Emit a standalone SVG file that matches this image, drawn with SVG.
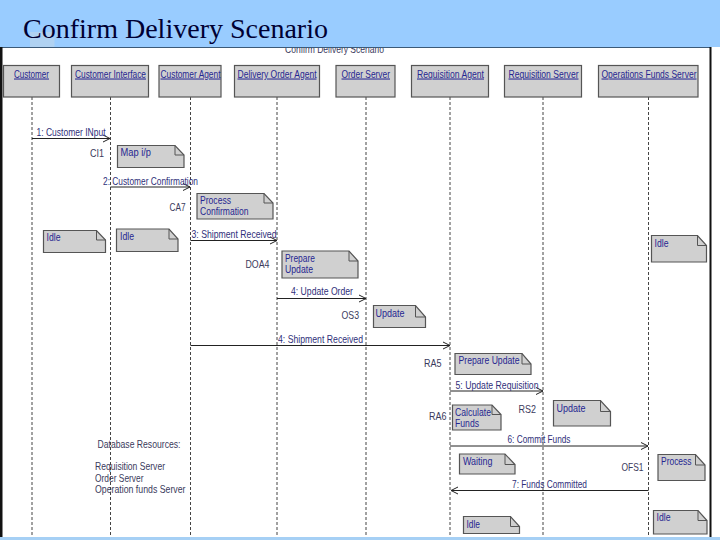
<svg xmlns="http://www.w3.org/2000/svg" width="720" height="540" viewBox="0 0 720 540">
<style>
.t{font-family:"Liberation Sans",Arial,sans-serif;font-size:10.5px}
.n{fill:#262691;text-decoration:underline}
.o{fill:#262691}
.m{fill:#2f2f7a}
.g{fill:#3a3a5c}
.box{fill:#d0d0d0;stroke:#555;stroke-width:1.2}
.fold{fill:none;stroke:#555;stroke-width:1}
.life{stroke:#444;stroke-width:1;stroke-dasharray:3 2;fill:none}
.msg{stroke:#222;stroke-width:1;fill:none}
</style>
<defs>
<marker id="a" markerUnits="userSpaceOnUse" markerWidth="10" markerHeight="12" refX="8" refY="6" orient="auto"><path d="M1 2.500L8 6L1 9.500" fill="none" stroke="#222" stroke-width="1"/></marker>
</defs>
<rect width="720" height="540" fill="#fff"/>
<text class="t g" x="285" y="52.500" textLength="99" lengthAdjust="spacingAndGlyphs">Confirm Delivery Scenario</text>
<rect width="720" height="47" fill="#99ccff"/>
<rect x="30" y="32" width="24.500" height="15" fill="#b0d2f2"/>
<rect x="0" y="47" width="711" height="1" fill="#3c5a78"/>
<rect x="0" y="47" width="2.500" height="490" fill="#111"/>
<rect x="709.500" y="47" width="2" height="490" fill="#111"/>
<rect y="537" width="720" height="3" fill="#a6d0f5"/>
<text id="title" x="23" y="37.500" font-family="'Liberation Serif','Times New Roman',serif" font-size="28" fill="#000033" textLength="305" lengthAdjust="spacingAndGlyphs">Confirm Delivery Scenario</text>
<g id="connectors">
<path class="life" d="M32 97V537M110.500 97V537M190.500 97V537M277 97V537M366 97V537M450 97V537M543 97V537M648.500 97V537"/>
<path class="msg" marker-end="url(#a)" d="M32 138.500H110"/>
<path class="msg" marker-end="url(#a)" d="M110.500 187H190"/>
<path class="msg" marker-end="url(#a)" d="M190.500 240.500H277"/>
<path class="msg" marker-end="url(#a)" d="M277 298.500H366"/>
<path class="msg" marker-end="url(#a)" d="M190.500 345.500H450"/>
<path class="msg" marker-end="url(#a)" d="M450 391H543"/>
<path class="msg" marker-end="url(#a)" d="M450 446H648"/>
<path class="msg" marker-end="url(#a)" d="M648.500 490.500H451"/>
<text class="t m" x="36.500" y="136" textLength="69" lengthAdjust="spacingAndGlyphs">1: Customer INput</text>
<text class="t m" x="103" y="185" textLength="95" lengthAdjust="spacingAndGlyphs">2: Customer Confirmation</text>
<text class="t m" x="191.500" y="238" textLength="85" lengthAdjust="spacingAndGlyphs">3: Shipment Received</text>
<text class="t m" x="291" y="295" textLength="62" lengthAdjust="spacingAndGlyphs">4: Update Order</text>
<text class="t m" x="278" y="343" textLength="85" lengthAdjust="spacingAndGlyphs">4: Shipment Received</text>
<text class="t m" x="455.500" y="389" textLength="83" lengthAdjust="spacingAndGlyphs">5: Update Requisition</text>
<text class="t m" x="507.500" y="443" textLength="63" lengthAdjust="spacingAndGlyphs">6: Commit Funds</text>
<text class="t m" x="512" y="488" textLength="75" lengthAdjust="spacingAndGlyphs">7: Funds Committed</text>
</g>
<g id="customer"><rect class="box" x="3.500" y="65.500" width="56" height="31.500"/><text class="t n" x="14" y="77.500" textLength="35" lengthAdjust="spacingAndGlyphs">Customer</text></g>
<g id="customer-interface"><rect class="box" x="71.500" y="65.500" width="77" height="31.500"/><text class="t n" x="75" y="77.500" textLength="71" lengthAdjust="spacingAndGlyphs">Customer Interface</text></g>
<g id="customer-agent"><rect class="box" x="159" y="65.500" width="62" height="31.500"/><text class="t n" x="160.500" y="77.500" textLength="60" lengthAdjust="spacingAndGlyphs">Customer Agent</text></g>
<g id="delivery-order-agent"><rect class="box" x="234.500" y="65.500" width="85" height="31.500"/><text class="t n" x="237.500" y="77.500" textLength="79" lengthAdjust="spacingAndGlyphs">Delivery Order Agent</text></g>
<g id="order-server"><rect class="box" x="336" y="65.500" width="59" height="31.500"/><text class="t n" x="341.500" y="77.500" textLength="48.500" lengthAdjust="spacingAndGlyphs">Order Server</text></g>
<g id="requisition-agent"><rect class="box" x="411.500" y="65.500" width="77" height="31.500"/><text class="t n" x="417" y="77.500" textLength="67" lengthAdjust="spacingAndGlyphs">Requisition Agent</text></g>
<g id="requisition-server"><rect class="box" x="504.500" y="65.500" width="77" height="31.500"/><text class="t n" x="508.500" y="77.500" textLength="70" lengthAdjust="spacingAndGlyphs">Requisition Server</text></g>
<g id="operations-funds-server"><rect class="box" x="598.500" y="65.500" width="99.500" height="31.500"/><text class="t n" x="601.500" y="77.500" textLength="95" lengthAdjust="spacingAndGlyphs">Operations Funds Server</text></g>

<g id="note-map"><path class="box" d="M117.500 145.500H175L184 155V167.500H117.500Z"/><path class="fold" d="M175 145.500V155H184"/><text class="t o" x="120.500" y="156" textLength="30.500" lengthAdjust="spacingAndGlyphs">Map i/p</text></g>
<g id="note-process"><path class="box" d="M197 193.500H264L273 203V219H197Z"/><path class="fold" d="M264 193.500V203H273"/><text class="t o" x="200" y="204" textLength="31" lengthAdjust="spacingAndGlyphs">Process</text><text class="t o" x="200" y="215" textLength="48.500" lengthAdjust="spacingAndGlyphs">Confirmation</text></g>
<g id="note-idle-1"><path class="box" d="M43.500 230.500H96.500L105.500 240V252.500H43.500Z"/><path class="fold" d="M96.500 230.500V240H105.500"/><text class="t o" x="46.500" y="241" textLength="14" lengthAdjust="spacingAndGlyphs">Idle</text></g>
<g id="note-idle-2"><path class="box" d="M116.500 229H169L178 239V251.500H116.500Z"/><path class="fold" d="M169 229V239H178"/><text class="t o" x="120" y="240" textLength="14" lengthAdjust="spacingAndGlyphs">Idle</text></g>
<g id="note-idle-ofs-top"><path class="box" d="M651.500 235.500H697.500L706.500 245.500V262H651.500Z"/><path class="fold" d="M697.500 235.500V245.500H706.500"/><text class="t o" x="654.500" y="247" textLength="14" lengthAdjust="spacingAndGlyphs">Idle</text></g>
<g id="note-prepare-1"><path class="box" d="M282 251H349L358 261V278H282Z"/><path class="fold" d="M349 251V261H358"/><text class="t o" x="285" y="262" textLength="30" lengthAdjust="spacingAndGlyphs">Prepare</text><text class="t o" x="285" y="273" textLength="28" lengthAdjust="spacingAndGlyphs">Update</text></g>
<g id="note-update-1"><path class="box" d="M373.500 305.500H415.500L425.500 317V327.500H373.500Z"/><path class="fold" d="M415.500 305.500V317H425.500"/><text class="t o" x="375.500" y="317" textLength="29" lengthAdjust="spacingAndGlyphs">Update</text></g>
<g id="note-prepare-2"><path class="box" d="M455 353.500H522L531 364V374.500H455Z"/><path class="fold" d="M522 353.500V364H531"/><text class="t o" x="458.500" y="364" textLength="61" lengthAdjust="spacingAndGlyphs">Prepare Update</text></g>
<g id="note-calculate"><path class="box" d="M452.500 405H492L501 414.500V430H452.500Z"/><path class="fold" d="M492 405V414.500H501"/><text class="t o" x="455" y="415.500" textLength="36" lengthAdjust="spacingAndGlyphs">Calculate</text><text class="t o" x="455" y="426.500" textLength="24" lengthAdjust="spacingAndGlyphs">Funds</text></g>
<g id="note-update-2"><path class="box" d="M553.500 400.500H600.500L610.500 411.500V426H553.500Z"/><path class="fold" d="M600.500 400.500V411.500H610.500"/><text class="t o" x="556.500" y="411.500" textLength="29" lengthAdjust="spacingAndGlyphs">Update</text></g>
<g id="note-waiting"><path class="box" d="M459.500 454H505L515 464.500V474H459.500Z"/><path class="fold" d="M505 454V464.500H515"/><text class="t o" x="463" y="465" textLength="29.500" lengthAdjust="spacingAndGlyphs">Waiting</text></g>
<g id="note-process-2"><path class="box" d="M658 454.500H695.500L705 465V480.500H658Z"/><path class="fold" d="M695.500 454.500V465H705"/><text class="t o" x="661" y="465" textLength="30.500" lengthAdjust="spacingAndGlyphs">Process</text></g>
<g id="note-idle-ra"><path class="box" d="M463.500 516.500H510.500L519.500 526.500V533.500H463.500Z"/><path class="fold" d="M510.500 516.500V526.500H519.500"/><text class="t o" x="466.500" y="527.500" textLength="13.500" lengthAdjust="spacingAndGlyphs">Idle</text></g>
<g id="note-idle-ofs"><path class="box" d="M653.500 510.500H698L707 520.500V534H653.500Z"/><path class="fold" d="M698 510.500V520.500H707"/><text class="t o" x="656.500" y="521" textLength="14" lengthAdjust="spacingAndGlyphs">Idle</text></g>

<g id="labels">
<text class="t g" x="90" y="157" textLength="14" lengthAdjust="spacingAndGlyphs">CI1</text>
<text class="t g" x="169.500" y="210.500" textLength="16" lengthAdjust="spacingAndGlyphs">CA7</text>
<text class="t g" x="245.500" y="268" textLength="24" lengthAdjust="spacingAndGlyphs">DOA4</text>
<text class="t g" x="341.500" y="319" textLength="17.500" lengthAdjust="spacingAndGlyphs">OS3</text>
<text class="t g" x="424" y="367" textLength="17.500" lengthAdjust="spacingAndGlyphs">RA5</text>
<text class="t g" x="429" y="420" textLength="17.500" lengthAdjust="spacingAndGlyphs">RA6</text>
<text class="t g" x="518.500" y="413" textLength="17.500" lengthAdjust="spacingAndGlyphs">RS2</text>
<text class="t g" x="621.500" y="471" textLength="22" lengthAdjust="spacingAndGlyphs">OFS1</text>
<text class="t g" x="97.500" y="448" textLength="83" lengthAdjust="spacingAndGlyphs">Database Resources:</text>
<text class="t g" x="95" y="470" textLength="70" lengthAdjust="spacingAndGlyphs">Requisition Server</text>
<text class="t g" x="95" y="481.500" textLength="48.500" lengthAdjust="spacingAndGlyphs">Order Server</text>
<text class="t g" x="95" y="492.500" textLength="90.500" lengthAdjust="spacingAndGlyphs">Operation  funds Server</text>
</g>
</svg>
